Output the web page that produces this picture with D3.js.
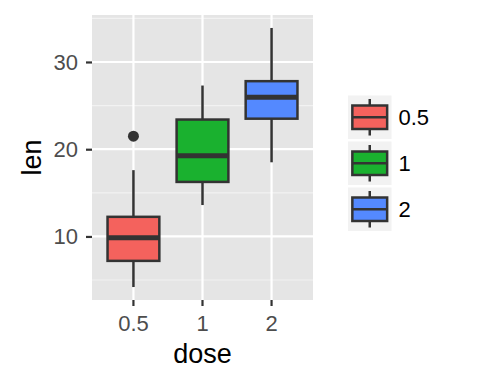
<!DOCTYPE html>
<html>
<head>
<meta charset="utf-8">
<script src="https://cdn.jsdelivr.net/npm/d3@7"></script>
<style>
  body { margin: 0; background: #fff; }
  text { font-family: "Liberation Sans", Arial, Helvetica, sans-serif; }
</style>
</head>
<body>
<div id="chart"></div>
<script>
// ToothGrowth len by dose (box summaries)
const doses = ["0.5", "1", "2"];
const lowerWhisker = [4.2, 13.6, 18.5];
const q1 = [7.2, 16.25, 23.5];
const median = [9.85, 19.25, 25.95];
const q3 = [12.25, 23.4, 27.8];
const upperWhisker = [17.6, 27.3, 33.9];
const outliers = [[21.5], [], []];
const yTicks = [10, 20, 30];
const yMinor = [5, 15, 25, 35];
const fills = ["#F4625D", "#1AB12F", "#5489FF"];

const W = 480, H = 384;
const panel = { left: 92, right: 313, top: 15, bottom: 300 };

const svg = d3.select("#chart").append("svg")
  .attr("width", W)
  .attr("height", H);

// discrete scale, 0.6 units of expansion on each side
const x = d3.scaleBand()
  .domain(doses)
  .range([panel.left, panel.right])
  .paddingInner(0)
  .paddingOuter(0.1);

const y = d3.scaleLinear()
  .domain([2.715, 35.385])
  .range([panel.bottom, panel.top]);

const xc = d => x(d) + x.bandwidth() / 2;
const boxW = x.bandwidth() * 0.75;

// Panel background
svg.append("rect")
  .attr("x", panel.left)
  .attr("y", panel.top)
  .attr("width", panel.right - panel.left)
  .attr("height", panel.bottom - panel.top)
  .attr("fill", "#E5E5E5");

// Grid
svg.append("g").selectAll("line")
  .data(yMinor)
  .enter().append("line")
  .attr("x1", panel.left).attr("x2", panel.right)
  .attr("y1", d => y(d)).attr("y2", d => y(d))
  .attr("stroke", "#F2F2F2")
  .attr("stroke-width", 1.1);

svg.append("g").selectAll("line")
  .data(yTicks)
  .enter().append("line")
  .attr("x1", panel.left).attr("x2", panel.right)
  .attr("y1", d => y(d)).attr("y2", d => y(d))
  .attr("stroke", "#fff")
  .attr("stroke-width", 2.2);

svg.append("g").selectAll("line")
  .data(doses)
  .enter().append("line")
  .attr("x1", xc).attr("x2", xc)
  .attr("y1", panel.top).attr("y2", panel.bottom)
  .attr("stroke", "#fff")
  .attr("stroke-width", 2.2);

// Axes
const yAxis = svg.append("g")
  .attr("transform", `translate(${panel.left},0)`)
  .call(d3.axisLeft(y).tickValues(yTicks).tickSize(6).tickPadding(8));
const xAxis = svg.append("g")
  .attr("transform", `translate(0,${panel.bottom})`)
  .call(d3.axisBottom(x).tickSize(6).tickPadding(9));

[yAxis, xAxis].forEach(g => {
  g.select(".domain").remove();
  g.selectAll(".tick line").attr("stroke", "#333333").attr("stroke-width", 2.2);
  g.selectAll(".tick text")
    .attr("fill", "#4D4D4D")
    .style("font-size", "22px");
});

// Boxes
const stats = doses.map((d, i) => ({
  dose: d, lo: lowerWhisker[i], q1: q1[i], med: median[i], q3: q3[i], hi: upperWhisker[i],
  out: outliers[i], fill: fills[i]
}));

const boxes = svg.append("g").selectAll("g")
  .data(stats)
  .enter().append("g");

boxes.append("line")
  .attr("x1", d => xc(d.dose)).attr("x2", d => xc(d.dose))
  .attr("y1", d => y(d.q3)).attr("y2", d => y(d.hi))
  .attr("stroke", "#333333").attr("stroke-width", 2.5);

boxes.append("line")
  .attr("x1", d => xc(d.dose)).attr("x2", d => xc(d.dose))
  .attr("y1", d => y(d.q1)).attr("y2", d => y(d.lo))
  .attr("stroke", "#333333").attr("stroke-width", 2.5);

boxes.append("rect")
  .attr("x", d => xc(d.dose) - boxW / 2)
  .attr("width", boxW)
  .attr("y", d => y(d.q3))
  .attr("height", d => y(d.q1) - y(d.q3))
  .attr("fill", d => d.fill)
  .attr("stroke", "#333333")
  .attr("stroke-width", 2.5);

boxes.append("line")
  .attr("x1", d => xc(d.dose) - boxW / 2).attr("x2", d => xc(d.dose) + boxW / 2)
  .attr("y1", d => y(d.med)).attr("y2", d => y(d.med))
  .attr("stroke", "#333333").attr("stroke-width", 5);

boxes.selectAll("circle")
  .data(d => d.out.map(v => ({ dose: d.dose, v })))
  .enter().append("circle")
  .attr("cx", d => xc(d.dose))
  .attr("cy", d => y(d.v))
  .attr("r", 5.5)
  .attr("fill", "#333333");

// Axis titles
svg.append("text")
  .attr("x", (panel.left + panel.right) / 2)
  .attr("y", 363)
  .attr("text-anchor", "middle")
  .style("font-size", "27px")
  .attr("fill", "#000")
  .text("dose");

svg.append("text")
  .attr("transform", `translate(41,${(panel.top + panel.bottom) / 2}) rotate(-90)`)
  .attr("text-anchor", "middle")
  .style("font-size", "27px")
  .attr("fill", "#000")
  .text("len");

// Legend
const keySize = 43.5, keyGap = 2.5;
const legend = svg.append("g").attr("transform", "translate(348,95.5)");
const keys = legend.selectAll("g")
  .data(stats)
  .enter().append("g")
  .attr("transform", (d, i) => `translate(0,${i * (keySize + keyGap)})`);

keys.append("rect")
  .attr("width", keySize).attr("height", keySize)
  .attr("fill", "#F2F2F2");

keys.append("line")
  .attr("x1", keySize / 2).attr("x2", keySize / 2)
  .attr("y1", keySize * 0.08).attr("y2", keySize * 0.92)
  .attr("stroke", "#333333").attr("stroke-width", 2.5);

keys.append("rect")
  .attr("x", keySize * 0.1).attr("width", keySize * 0.8)
  .attr("y", keySize * 0.23).attr("height", keySize * 0.54)
  .attr("fill", d => d.fill)
  .attr("stroke", "#333333").attr("stroke-width", 2.5);

keys.append("line")
  .attr("x1", keySize * 0.1).attr("x2", keySize * 0.9)
  .attr("y1", keySize / 2).attr("y2", keySize / 2)
  .attr("stroke", "#333333").attr("stroke-width", 2.5);

keys.append("text")
  .attr("x", keySize + 7)
  .attr("y", keySize / 2)
  .attr("dy", "0.35em")
  .style("font-size", "22px")
  .attr("fill", "#000")
  .text(d => d.dose);
</script>
</body>
</html>
